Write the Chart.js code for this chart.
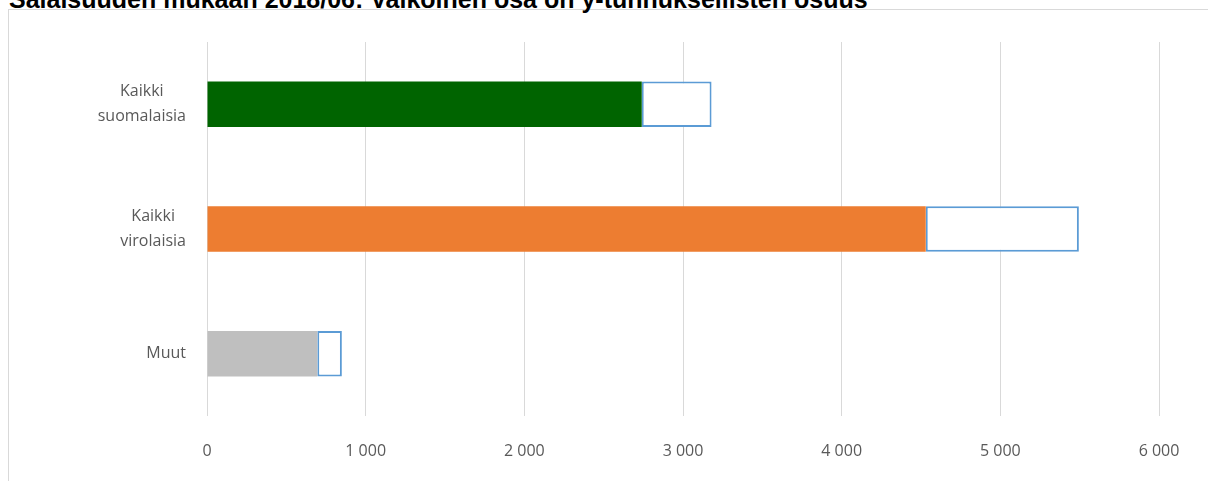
<!DOCTYPE html>
<html>
<head>
<meta charset="utf-8">
<script src="https://cdn.jsdelivr.net/npm/chart.js@4/dist/chart.umd.min.js"></script>
<style>
  html, body { margin: 0; padding: 0; background: #fff; overflow: hidden; }
  #wrap { position: relative; width: 1208px; height: 481px; overflow: hidden; }
  #frame { position: absolute; left: 8px; top: 9px; width: 1300px; height: 600px; border: 1px solid #d9d9d9; }
  #title { position: absolute; left: 9px; top: -15px; font: bold 25px "Liberation Sans", Arial, sans-serif; color: #000; white-space: nowrap; }
  canvas { position: absolute; left: 0; top: 0; }
</style>
</head>
<body>
<div id="wrap">
  <div id="frame"></div>
  <div id="title">Salaisuuden mukaan 2018/06: Valkoinen osa on y-tunnuksellisten osuus</div>
  <canvas id="myChart" width="1208" height="481"></canvas>
</div>
<script>
// categories (top to bottom)
const categories = [["Kaikki", "suomalaisia"], ["Kaikki", "virolaisia"], ["Muut"]];
// coloured part and white (y-tunnukselliset) part of each bar
const mainValues = [2740, 4530, 695];
const whiteValues = [440, 965, 155];
const mainColors = ["#006400", "#ed7d31", "#bfbfbf"];
const xTicks = [0, 1000, 2000, 3000, 4000, 5000, 6000];

const fmt = v => String(v).replace(/\B(?=(\d{3})+(?!\d))/g, " ");
const labelFont = "16px 'Open Sans'";

// category labels: each block right aligned, lines centred inside the block (like Excel)
const catLabels = {
  id: "catLabels",
  afterDraw(chart) {
    const c = chart.ctx;
    const y = chart.scales.y;
    c.save();
    c.font = labelFont;
    c.fillStyle = "#595959";
    c.textAlign = "center";
    c.textBaseline = "middle";
    const lineH = 25;
    categories.forEach((lines, i) => {
      const w = Math.max(...lines.map(t => c.measureText(t).width));
      const cx = 186 - w / 2;
      const cy = y.getPixelForTick(i);
      lines.forEach((t, j) => {
        c.fillText(t, cx, cy + (j - (lines.length - 1) / 2) * lineH);
      });
    });
    c.restore();
  },
};

const ctx = document.getElementById("myChart").getContext("2d");
new Chart(ctx, {
  type: "bar",
  data: {
    labels: categories,
    datasets: [
      {
        label: "Muut",
        data: mainValues,
        backgroundColor: mainColors,
        borderWidth: 0,
      },
      {
        label: "Y-tunnukselliset",
        data: whiteValues,
        backgroundColor: "#ffffff",
        borderColor: "#5b9bd5",
        borderWidth: 2,
        borderSkipped: false,
      },
    ],
  },
  plugins: [catLabels],
  options: {
    indexAxis: "y",
    responsive: false,
    animation: false,
    barPercentage: 0.9,
    categoryPercentage: 0.405,
    layout: { padding: { left: 0, right: 49, top: 42, bottom: 0 } },
    plugins: { legend: { display: false }, tooltip: { enabled: false } },
    scales: {
      x: {
        stacked: true,
        min: 0,
        max: 6000,
        afterBuildTicks: axis => { axis.ticks = xTicks.map(v => ({ value: v })); },
        afterFit: axis => { axis.height = 65; },
        grid: { color: "#d9d9d9", drawTicks: false },
        border: { display: false },
        ticks: {
          padding: 26,
          color: "#595959",
          font: { family: "Open Sans", size: 16 },
          callback: v => fmt(v),
        },
      },
      y: {
        stacked: true,
        afterFit: axis => { axis.width = 207; },
        grid: { display: false, drawTicks: false },
        border: { display: false },
        ticks: { display: false },
      },
    },
  },
});
</script>
</body>
</html>
